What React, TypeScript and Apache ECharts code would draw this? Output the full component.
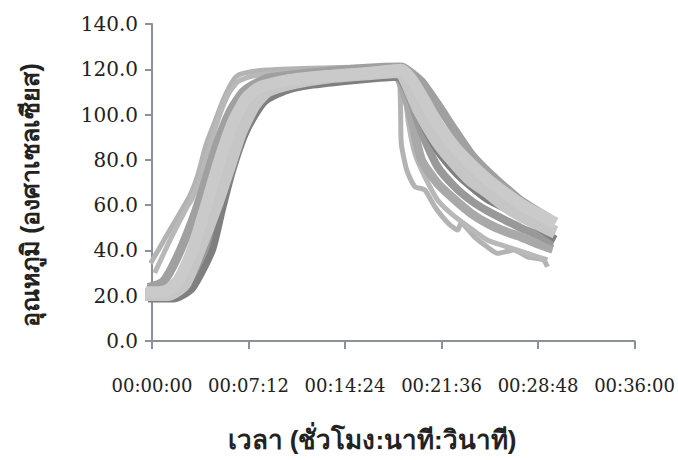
import React, { useEffect, useRef } from "react";
import * as echarts from "echarts";

// time in minutes, temperature in °C
const tOut1 = [-0.1, 1.33, 2.8, 3.4, 4.05, 4.7, 5.28, 5.8, 6.27, 6.8, 8.5, 12, 16, 18.3, 18.5, 18.55, 18.6, 19, 19.6, 20.35, 21.1, 22.1, 22.8, 23.06, 24.05, 25, 25.8, 27, 28, 29.2, 29.5];
const yOut1 = [34.3, 49, 64, 73, 87, 97, 106, 112.5, 116.7, 118.2, 119.7, 120.5, 121, 121.5, 112, 100, 87, 75.5, 68.2, 66.7, 59.3, 52, 49, 52, 46, 41.6, 38.7, 40.2, 37.2, 35.8, 32.8];

const tOut2 = [0.2, 1.3, 2.6, 3.0, 3.6, 4.3, 5.0, 5.7, 6.4, 7.5, 10, 14, 18.3, 18.8, 19.1, 19.6, 20.35, 21.3, 22.3, 23.6, 25, 26.5, 28, 29.5];
const yOut2 = [30, 44, 59, 63, 72, 86, 99, 109, 114.5, 117, 118.5, 119.5, 120.5, 113, 97.6, 82.9, 72.6, 62.3, 56.4, 50.5, 44.6, 41.6, 38.7, 35.8];

const tMid3 = [-0.7, 1.3, 2.6, 3.8, 4.6, 5.5, 6.4, 7.4, 8.4, 10, 13, 16, 18.2, 18.7, 19.3, 20.1, 21.3, 22.6, 23.8, 25, 26.3, 27.5, 28.7, 29.9];
const yMid3 = [20, 20, 25, 42, 58, 75, 91, 103, 109, 112.5, 115.5, 117, 117.5, 112, 100, 80, 69.6, 62.3, 56.4, 52, 48.5, 46, 43, 40.5];

const tMid2 = [-0.7, 1.5, 2.8, 4.2, 5.0, 5.8, 6.7, 7.7, 8.6, 10, 13, 16, 18.3, 19.2, 20, 21.3, 22.6, 23.8, 25, 26.3, 27.5, 28.7, 30];
const yMid2 = [19.5, 19.5, 24, 42, 59, 75, 91, 102.5, 108, 111.5, 114.5, 116, 117, 108, 94, 77, 68, 62, 57.5, 53.5, 50, 47, 43.5];

const tDark = [-0.7, 1.6, 3.0, 4.5, 5.25, 6.0, 7.0, 8.0, 8.6, 10, 12, 15.6, 18.3, 19.0, 20, 21.3, 22.6, 23.8, 25, 26.3, 27.5, 28.7, 30.1];
const yDark = [18.5, 18.5, 23, 40, 58, 75, 92, 102.5, 106.5, 110.5, 113, 115.3, 116.5, 111, 98, 84, 74.5, 68, 62.5, 58.5, 54.5, 50.5, 45];

const tMid1 = [-0.7, 0.8, 1.8, 3.0, 3.8, 4.8, 5.8, 6.8, 8, 9, 12, 16, 18.6, 19.2, 20.1, 21.3, 22.6, 23.8, 25, 26.3, 27.5, 28.7, 30.1];
const yMid1 = [23, 26, 36, 53, 67, 86, 101, 110, 114.5, 116.5, 118.5, 120.5, 121, 119, 114.5, 104.5, 92.8, 82.5, 75, 68, 62, 57.5, 52.5];

const tLightB = [-0.7, 1.2, 2.4, 3.5, 4.8, 5.7, 6.6, 7.6, 8.6, 10.5, 13, 16, 18.5, 19.1, 20, 21.3, 22.6, 23.8, 25, 26.3, 27.5, 28.7, 30.1];
const yLightB = [20.5, 20.5, 25, 40, 60, 76, 92, 104, 110.5, 114, 116.5, 118, 119, 113, 101, 88, 78.5, 71, 66, 60, 55.5, 52, 48];

const tLightA = [-0.7, 1, 2.0, 3.0, 4.05, 5.0, 6.0, 7.0, 8.0, 10, 13, 16, 18.6, 19.3, 20.1, 21.3, 22.6, 23.8, 25, 26.3, 27.5, 28.7, 30.1];
const yLightA = [21.5, 22, 27, 40, 60, 79, 96, 107, 112, 115, 117, 118.3, 119.8, 116, 108.5, 96, 85.5, 78, 71.5, 65.5, 60.5, 56.5, 52];

const xTickStep = 7.2; // minutes (00:07:12)

const pairs = (t: number[], y: number[]) => t.map((v, i) => [v, y[i]]);

function fmtTime(v: number) {
  const s = Math.round(v * 60);
  const hh = Math.floor(s / 3600);
  const mm = Math.floor((s % 3600) / 60);
  const ss = s % 60;
  const p = (n: number) => String(n).padStart(2, "0");
  return `${p(hh)}:${p(mm)}:${p(ss)}`;
}

export default function App() {
  const ref = useRef<HTMLDivElement>(null);
  useEffect(() => {
    if (!ref.current) return;
    const chart = echarts.init(ref.current, undefined, { renderer: "svg" });
    const mk = (name: string, t: number[], y: number[], color: string, width: number) => ({
      name,
      type: "line",
      data: pairs(t, y),
      showSymbol: false,
      symbol: "none",
      smooth: 0.2,
      clip: false,
      lineStyle: { color, width, cap: "butt", join: "round" },
      z: 2,
    });
    chart.setOption({
      animation: false,
      backgroundColor: "#ffffff",
      grid: { left: 152, top: 24, right: 40, bottom: 119, containLabel: false },
      xAxis: {
        type: "value",
        min: 0,
        max: 36,
        interval: xTickStep,
        axisLine: { show: true, lineStyle: { color: "#8a9199", width: 2 } },
        axisTick: { show: true, inside: false, length: 8, lineStyle: { color: "#8a9199", width: 2 } },
        axisLabel: {
          formatter: (v: number) => fmtTime(v),
          margin: 35,
          fontFamily: "DejaVu Serif",
          fontSize: 18,
          color: "#222222",
        },
        splitLine: { show: false },
      },
      yAxis: {
        type: "value",
        min: 0,
        max: 140,
        interval: 20,
        axisLine: { show: true, lineStyle: { color: "#8a9199", width: 2 } },
        axisTick: { show: true, inside: false, length: 7, lineStyle: { color: "#8a9199", width: 2 } },
        axisLabel: {
          formatter: (v: number) => v.toFixed(1),
          margin: 14,
          fontFamily: "DejaVu Serif",
          fontSize: 20,
          color: "#222222",
        },
        splitLine: { show: false },
      },
      series: [
        mk("s1", tOut1, yOut1, "#b3b3b3", 5),
        mk("s2", tOut2, yOut2, "#b8b8b8", 5),
        mk("s3", tMid3, yMid3, "#a9a9a9", 9),
        mk("s4", tMid2, yMid2, "#999999", 8),
        mk("s5", tDark, yDark, "#7f7f7f", 7),
        mk("s6", tMid1, yMid1, "#a0a0a0", 9),
        mk("s7", tLightB, yLightB, "#c6c6c6", 13),
        mk("s8", tLightA, yLightA, "#cacaca", 12),
      ],
      graphic: [
        {
          type: "text",
          x: 30,
          y: 195,
          rotation: Math.PI / 2,
          style: {
            text: "อุณหภูมิ (องศาเซลเซียส)",
            fontSize: 25,
            fontWeight: "bold",
            fontFamily: "sans-serif",
            fill: "#222222",
            align: "center",
            verticalAlign: "middle",
          },
        },
        {
          type: "text",
          x: 372,
          y: 440,
          style: {
            text: "เวลา (ชั่วโมง:นาที:วินาที)",
            fontSize: 26,
            fontWeight: "bold",
            fontFamily: "sans-serif",
            fill: "#222222",
            align: "center",
            verticalAlign: "middle",
          },
        },
      ],
    });
    return () => chart.dispose();
  }, []);
  return <div ref={ref} style={{ width: 678, height: 460, position: "absolute", left: 0, top: 0 }} />;
}
